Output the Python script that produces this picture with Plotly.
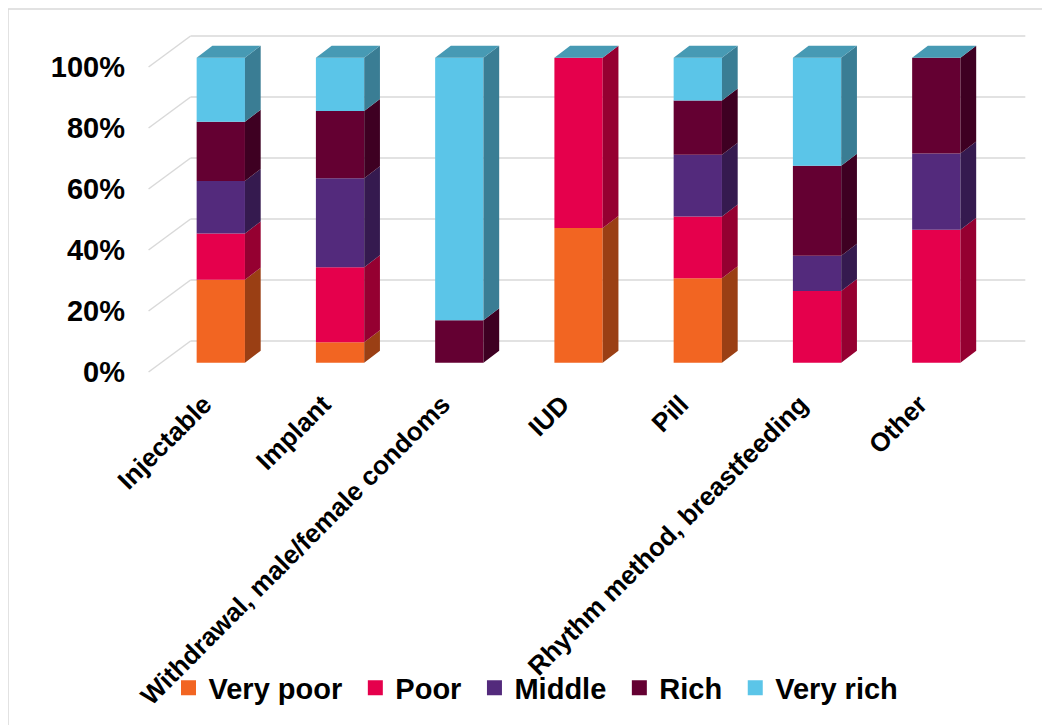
import plotly.graph_objects as go

# ---------------- data ----------------
categories = ["Injectable", "Implant", "Withdrawal, male/female condoms", "IUD",
              "Pill", "Rhythm method, breastfeeding", "Other"]
series_names = ["Very poor", "Poor", "Middle", "Rich", "Very rich"]
very_poor = [27.2, 6.7, 0.0, 44.2, 27.7, 0.0, 0.0]
poor = [15.2, 24.6, 0.0, 55.8, 20.2, 23.5, 43.6]
middle = [17.2, 29.2, 0.0, 0.0, 20.3, 11.6, 25.0]
rich = [19.4, 22.0, 13.9, 0.0, 17.8, 29.5, 31.4]
very_rich = [21.0, 17.5, 86.1, 0.0, 14.0, 35.4, 0.0]
y_ticks = [0, 20, 40, 60, 80, 100]
y_tick_labels = ["0%", "20%", "40%", "60%", "80%", "100%"]

series_values = [very_poor, poor, middle, rich, very_rich]

# ---------------- style ----------------
front_colors = ["#F26522", "#E5004C", "#532A7C", "#640032", "#5BC5E8"]
side_colors = ["#9A3F14", "#950031", "#351A4F", "#3E0022", "#3A7D94"]
top_color = "#479AB4"
grid_color = "#D9D9D9"
FONT = "Liberation Sans, Arial, sans-serif"

# pseudo-3D geometry (in axis units)
BAR_W = 0.405
SIDE_DX, SIDE_DY = 0.132, 3.93      # depth of a bar
FRONT_DX, FRONT_DY = -0.1057, -3.05  # front plane of the walls, relative to bar faces
WALL_DX, WALL_DY = 0.2465, 7.11      # back wall, relative to bar faces
LABEL_DX = -0.035                    # small nudge of category labels

n = len(categories)
idx = list(range(n))

fig = go.Figure()

# bar front faces
bases_running = [0.0] * n
all_bases = []
for s, vals in enumerate(series_values):
    bases = list(bases_running)
    all_bases.append(bases)
    fig.add_trace(go.Bar(
        x=idx, y=vals, base=bases, width=BAR_W,
        marker=dict(color=front_colors[s], line=dict(width=0)),
        name=series_names[s], showlegend=False,
        hovertemplate="%{y:.1f}%<extra>" + series_names[s] + "</extra>",
    ))
    bases_running = [b + v for b, v in zip(bases_running, vals)]

# bar side faces
for s, vals in enumerate(series_values):
    xs, ys = [], []
    for i in idx:
        v = vals[i]
        if v <= 0:
            continue
        b0 = all_bases[s][i]
        b1 = b0 + v
        xr = i + BAR_W / 2
        xs += [xr, xr + SIDE_DX, xr + SIDE_DX, xr, xr, None]
        ys += [b0, b0 + SIDE_DY, b1 + SIDE_DY, b1, b0, None]
    fig.add_trace(go.Scatter(
        x=xs, y=ys, mode="lines", fill="toself", fillcolor=side_colors[s],
        line=dict(width=0, color=side_colors[s]), hoverinfo="skip", showlegend=False,
    ))

# bar top faces
xs, ys = [], []
for i in idx:
    top = bases_running[i]
    xl, xr = i - BAR_W / 2, i + BAR_W / 2
    xs += [xl, xl + SIDE_DX, xr + SIDE_DX, xr, xl, None]
    ys += [top, top + SIDE_DY, top + SIDE_DY, top, top, None]
fig.add_trace(go.Scatter(
    x=xs, y=ys, mode="lines", fill="toself", fillcolor=top_color,
    line=dict(width=0, color=top_color), hoverinfo="skip", showlegend=False,
))

# legend entries
for s, name in enumerate(series_names):
    fig.add_trace(go.Scatter(
        x=[None], y=[None], mode="markers", name=name + "\u00a0",
        marker=dict(symbol="square", size=15, color=front_colors[s]),
    ))

# walls: side-wall diagonals + back-wall gridlines
shapes = []
for t in y_ticks:
    shapes.append(dict(type="line", xref="x", yref="y", layer="below",
                       x0=-0.5 + FRONT_DX, y0=t + FRONT_DY,
                       x1=-0.5 + WALL_DX, y1=t + WALL_DY,
                       line=dict(color=grid_color, width=1.5)))
    shapes.append(dict(type="line", xref="x", yref="y", layer="below",
                       x0=-0.5 + WALL_DX, y0=t + WALL_DY,
                       x1=n - 0.5 + WALL_DX, y1=t + WALL_DY,
                       line=dict(color=grid_color, width=1.5)))

# plot-area geometry (page body adds an 8px offset, compensated here)
W, H = 1050, 725
OFF = 8
L, R, T, B = 146 - OFF, 1030 - OFF, 25 - OFF, 383 - OFF
PX_PER_X = 119.25
PX_PER_Y = 3.05
X_ORIGIN_PX = 220.8 - OFF
Y_ORIGIN_PX = 362.7 - OFF
x_range = [(L - X_ORIGIN_PX) / PX_PER_X, (R - X_ORIGIN_PX) / PX_PER_X]
y_range = [(Y_ORIGIN_PX - B) / PX_PER_Y, (Y_ORIGIN_PX - T) / PX_PER_Y]

# chart border (light frame)
shapes.append(dict(type="rect", xref="paper", yref="paper", layer="below",
                   x0=(8 - OFF - L) / (R - L), x1=(W + 20 - L) / (R - L),
                   y0=(B - (H + 20)) / (B - T), y1=(B - (9 - OFF)) / (B - T),
                   line=dict(color=grid_color, width=1.5), fillcolor="rgba(0,0,0,0)"))

fig.update_layout(
    width=W, height=H,
    margin=dict(l=L, r=W - R, t=T, b=H - B, autoexpand=False),
    paper_bgcolor="white", plot_bgcolor="white",
    barmode="overlay",
    shapes=shapes,
    font=dict(family=FONT, color="#000000"),
    showlegend=True,
    legend=dict(
        orientation="h", x=(540 - OFF - L) / (R - L), xanchor="center",
        y=(B - (688 - OFF)) / (B - T), yanchor="middle",
        font=dict(family=FONT, size=29, weight="bold", color="#000000"),
        itemsizing="trace", bgcolor="rgba(0,0,0,0)",
    ),
    xaxis=dict(
        range=x_range, showgrid=False, zeroline=False, showline=False,
        tickmode="array", tickvals=[i + FRONT_DX + LABEL_DX for i in idx], ticktext=categories,
        tickangle=-45, ticks="", automargin=False,
        tickfont=dict(family=FONT, size=26, weight="bold", color="#000000"),
    ),
    yaxis=dict(
        range=y_range, showgrid=False, zeroline=False, showline=False,
        tickmode="array", tickvals=[t + FRONT_DY for t in y_ticks], ticktext=y_tick_labels,
        ticks="", automargin=False, ticklabelstandoff=20,
        tickfont=dict(family=FONT, size=29, weight="bold", color="#000000"),
    ),
)

fig.write_html("out.html")
